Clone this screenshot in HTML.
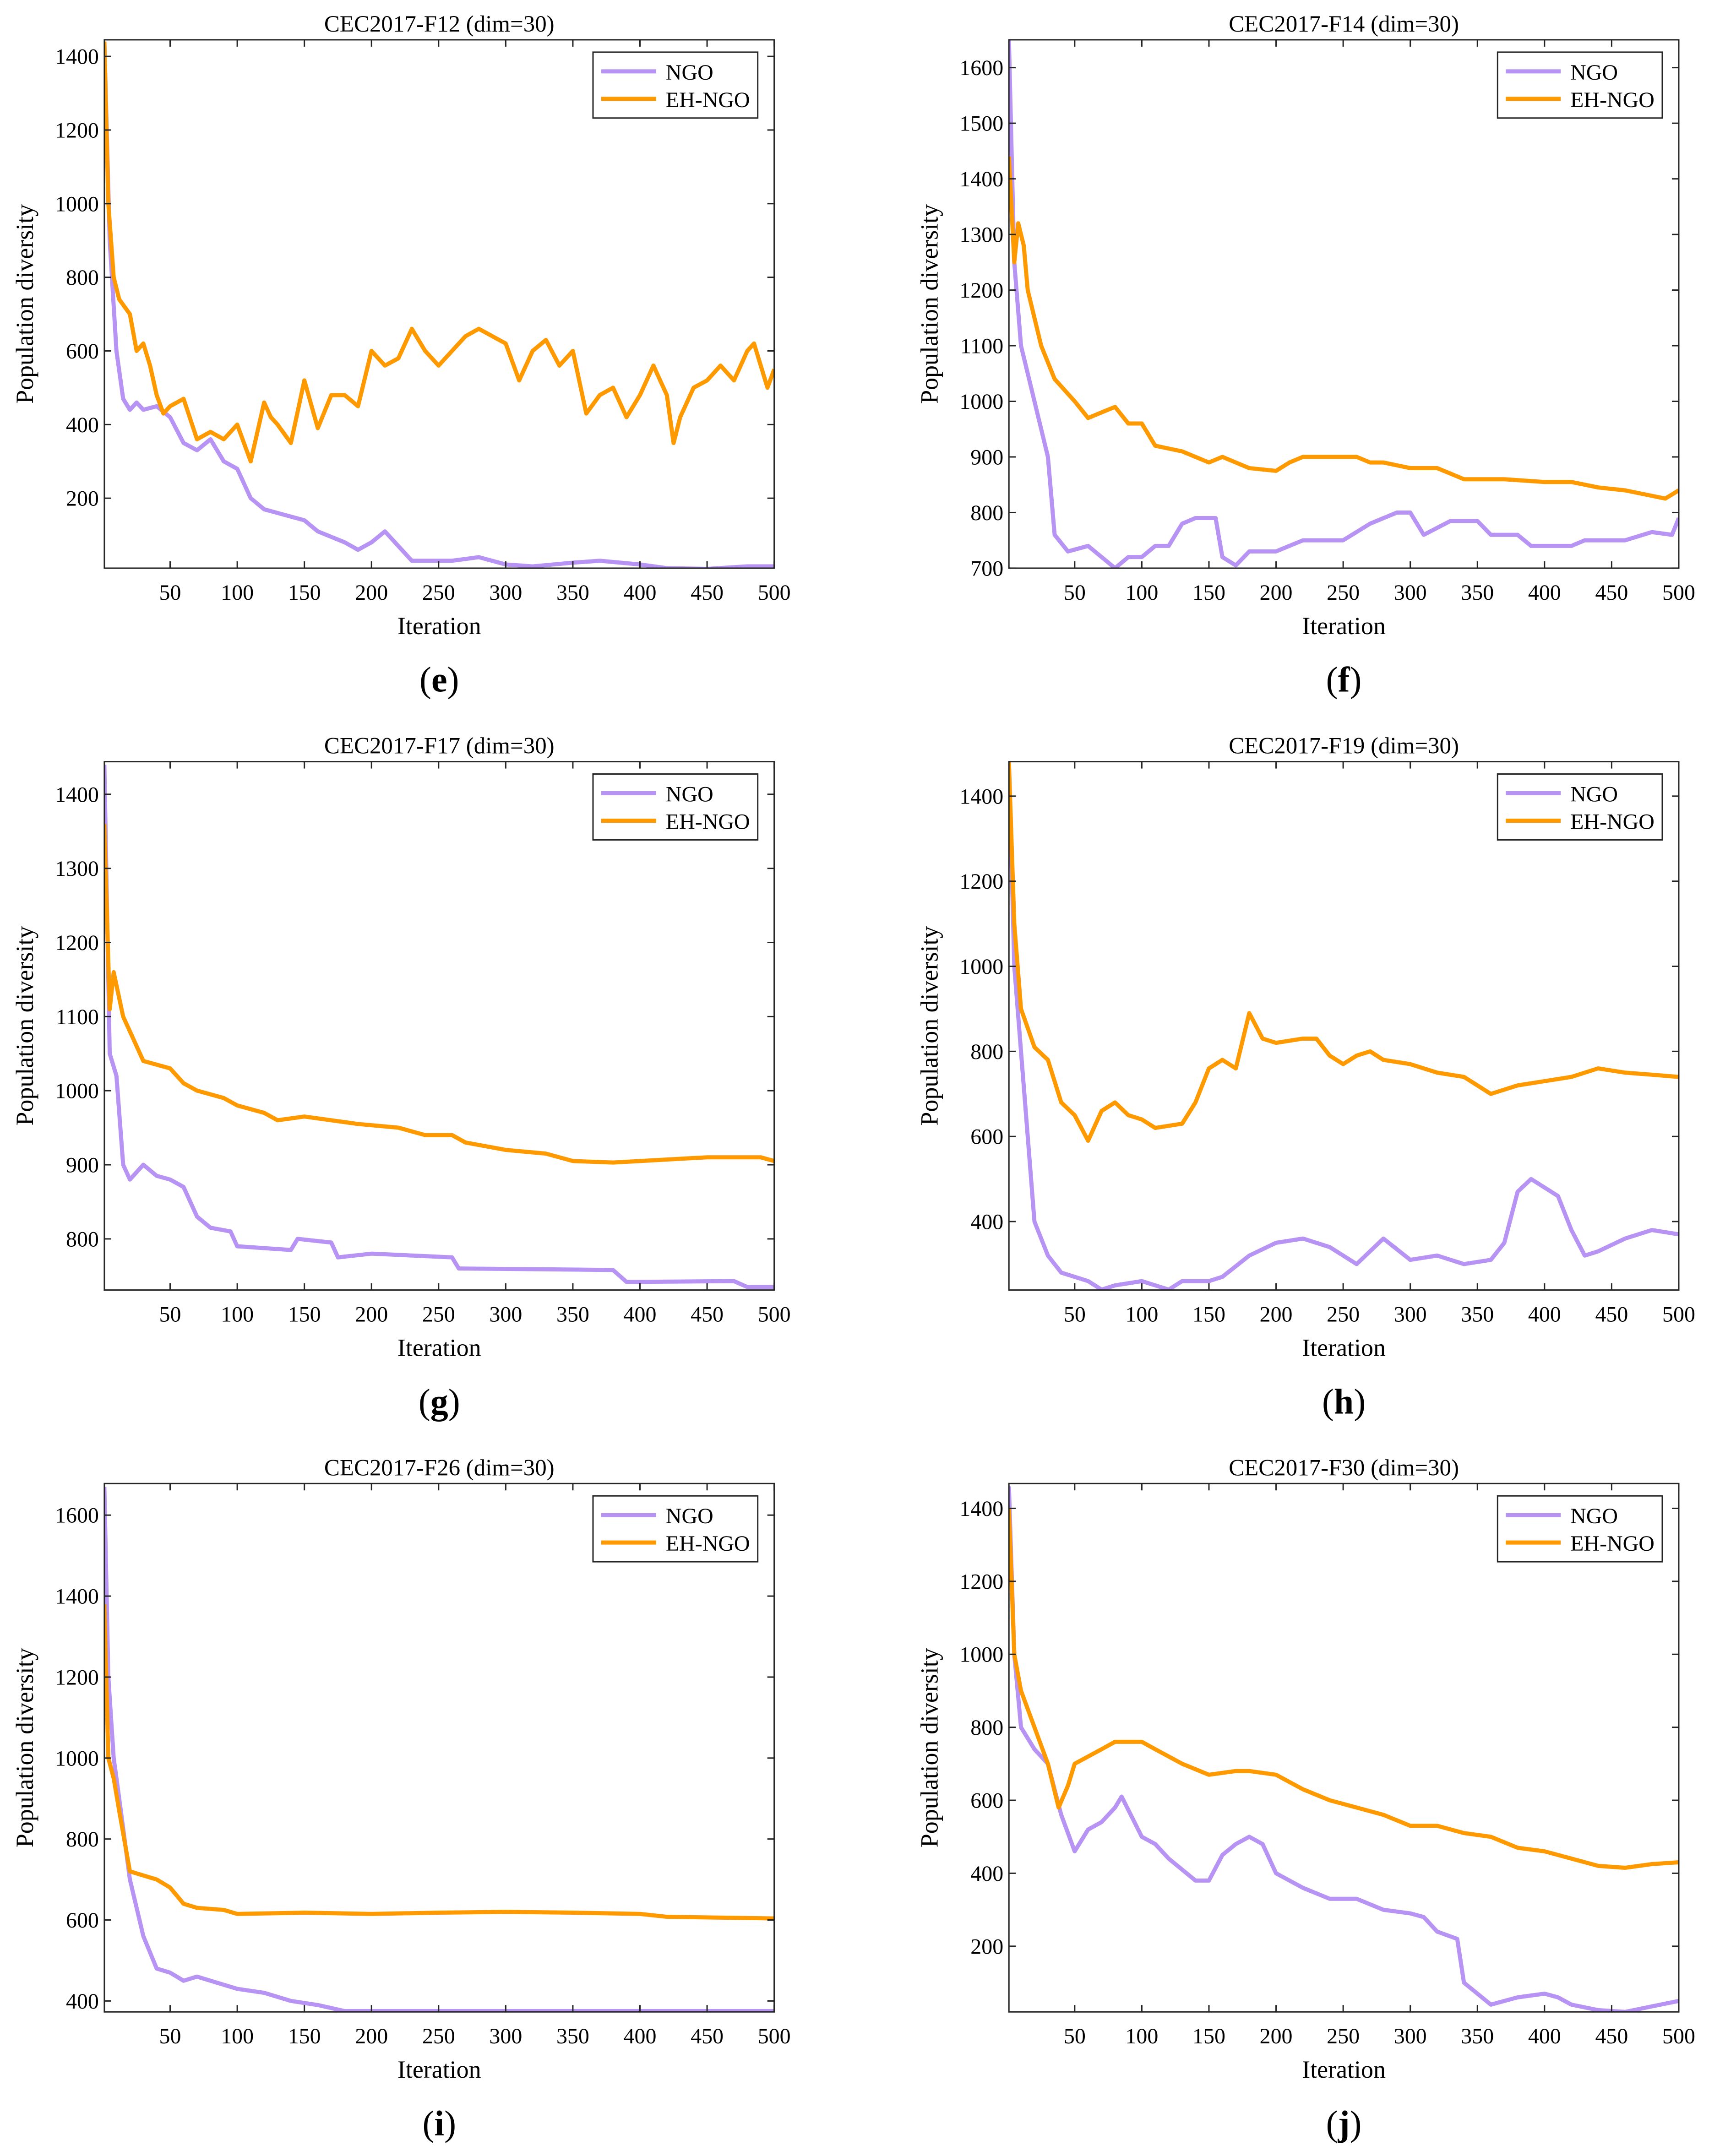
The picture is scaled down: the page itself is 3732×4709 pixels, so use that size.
<!DOCTYPE html>
<html><head><meta charset="utf-8"><style>
html,body{margin:0;padding:0;background:#fff;}
svg{display:block;}
svg text{font-family:"Liberation Serif","DejaVu Serif",serif !important;fill:#000;}
</style></head><body>
<svg id="fig" width="3732" height="4709" viewBox="0 0 1245 1571" xmlns="http://www.w3.org/2000/svg" font-family="Liberation Serif, serif"></svg>
<script>
const iters_e_ngo = [1,5,10,15,20,25,30,40,50,60,70,80,90,100,110,120,130,150,160,180,190,200,210,220,230,260,280,300,320,350,370,400,420,450,480,500];
const vals_e_ngo  = [1440,900,600,470,440,460,440,450,420,350,330,360,300,280,200,170,160,140,110,80,60,80,110,70,30,30,40,20,15,25,30,20,10,8,15,15];
const iters_e_eh = [1,4,8,12,20,25,30,35,40,45,50,60,70,80,90,100,110,120,125,130,140,150,160,170,180,190,200,210,220,230,240,250,260,270,280,300,310,320,330,340,350,360,370,380,390,400,410,420,425,430,440,450,460,470,480,485,495,500];
const vals_e_eh  = [1440,1000,800,740,700,600,620,560,480,430,450,470,360,380,360,400,300,460,420,400,350,520,390,480,480,450,600,560,580,660,600,560,600,640,660,620,520,600,630,560,600,430,480,500,420,480,560,480,350,420,500,520,560,520,600,620,500,550];

const iters_f_ngo = [1,5,10,20,30,35,45,60,70,80,90,100,110,120,130,140,155,160,170,180,200,220,250,270,290,300,310,330,350,360,380,390,420,430,460,480,495,500];
const vals_f_ngo  = [1650,1250,1100,1000,900,760,730,740,720,700,720,720,740,740,780,790,790,720,705,730,730,750,750,780,800,800,760,785,785,760,760,740,740,750,750,765,760,790];
const iters_f_eh = [1,5,8,12,15,25,35,50,60,70,80,90,100,110,130,150,160,180,200,210,220,260,270,280,300,320,330,340,370,400,420,440,460,490,500];
const vals_f_eh  = [1440,1250,1320,1280,1200,1100,1040,1000,970,980,990,960,960,920,910,890,900,880,875,890,900,900,890,890,880,880,870,860,860,855,855,845,840,825,840];

const iters_g_ngo = [1,5,10,15,20,30,40,50,60,70,80,95,100,140,145,170,175,200,260,265,380,390,470,480,500];
const vals_g_ngo  = [1440,1050,1020,900,880,900,885,880,870,830,815,810,790,785,800,795,775,780,775,760,758,742,743,735,735];
const iters_g_eh = [1,5,8,15,20,30,50,60,70,90,100,120,130,150,170,190,220,240,260,270,300,330,350,380,400,450,490,500];
const vals_g_eh  = [1360,1110,1160,1100,1080,1040,1030,1010,1000,990,980,970,960,965,960,955,950,940,940,930,920,915,905,903,905,910,910,905];

const iters_h_ngo = [1,5,10,15,20,30,40,50,60,70,80,100,120,130,150,160,180,200,220,240,260,280,300,320,340,360,370,380,390,410,420,430,440,460,480,500];
const vals_h_ngo  = [1480,1000,800,600,400,320,280,270,260,240,250,260,240,260,260,270,320,350,360,340,300,360,310,320,300,310,350,470,500,460,380,320,330,360,380,370];
const iters_h_eh = [1,5,10,20,30,40,50,60,70,80,90,100,110,130,140,150,160,170,180,190,200,220,230,240,250,260,270,280,300,320,340,350,360,380,400,420,440,460,480,500];
const vals_h_eh  = [1480,1100,900,810,780,680,650,590,660,680,650,640,620,630,680,760,780,760,890,830,820,830,830,790,770,790,800,780,770,750,740,720,700,720,730,740,760,750,745,740];

const iters_i_ngo = [1,4,8,12,20,30,40,50,60,70,80,100,120,140,160,180,220,300,400,500];
const vals_i_ngo  = [1670,1200,1000,900,700,560,480,470,450,460,450,430,420,400,390,375,375,375,375,375];
const iters_i_eh = [1,4,8,12,20,30,40,50,60,70,90,100,150,200,250,300,350,400,420,500];
const vals_i_eh  = [1380,1000,950,870,720,710,700,680,640,630,625,615,618,615,618,620,618,615,608,604];

const iters_j_ngo = [1,5,10,20,30,40,50,60,70,80,85,100,110,120,140,150,160,170,180,190,200,220,240,260,280,300,310,320,335,340,360,380,400,410,420,440,460,480,500];
const vals_j_ngo  = [1460,1000,800,740,700,560,460,520,540,580,610,500,480,440,380,380,450,480,500,480,400,360,330,330,300,290,280,240,220,100,40,60,70,60,40,25,20,35,50];
const iters_j_eh = [1,5,10,20,30,38,45,50,60,70,80,100,110,130,150,170,180,200,220,240,260,280,300,320,340,360,380,400,420,440,460,480,500];
const vals_j_eh  = [1400,1000,900,800,700,580,640,700,720,740,760,760,740,700,670,680,680,670,630,600,580,560,530,530,510,500,470,460,440,420,415,425,430];

const xTicks = [50,100,150,200,250,300,350,400,450,500];
const yTicks_e = [200,400,600,800,1000,1200,1400];
const yTicks_f = [700,800,900,1000,1100,1200,1300,1400,1500,1600];
const yTicks_g = [800,900,1000,1100,1200,1300,1400];
const yTicks_h = [400,600,800,1000,1200,1400];
const yTicks_i = [400,600,800,1000,1200,1400,1600];
const yTicks_j = [200,400,600,800,1000,1200,1400];

const panels = [
 {id:'e',title:'CEC2017-F12 (dim=30)',x:76,y:29,ylim:[10,1445],ticks:yTicks_e,ngo:[iters_e_ngo,vals_e_ngo],eh:[iters_e_eh,vals_e_eh]},
 {id:'f',title:'CEC2017-F14 (dim=30)',x:735,y:29,ylim:[700,1650],ticks:yTicks_f,ngo:[iters_f_ngo,vals_f_ngo],eh:[iters_f_eh,vals_f_eh]},
 {id:'g',title:'CEC2017-F17 (dim=30)',x:76,y:555,ylim:[731,1444],ticks:yTicks_g,ngo:[iters_g_ngo,vals_g_ngo],eh:[iters_g_eh,vals_g_eh]},
 {id:'h',title:'CEC2017-F19 (dim=30)',x:735,y:555,ylim:[239,1481],ticks:yTicks_h,ngo:[iters_h_ngo,vals_h_ngo],eh:[iters_h_eh,vals_h_eh]},
 {id:'i',title:'CEC2017-F26 (dim=30)',x:76,y:1081,ylim:[373,1678],ticks:yTicks_i,ngo:[iters_i_ngo,vals_i_ngo],eh:[iters_i_eh,vals_i_eh]},
 {id:'j',title:'CEC2017-F30 (dim=30)',x:735,y:1081,ylim:[20,1468],ticks:yTicks_j,ngo:[iters_j_ngo,vals_j_ngo],eh:[iters_j_eh,vals_j_eh]}
];
const W=488,H=385;
const NS='http://www.w3.org/2000/svg';
const FONT='Liberation Serif, DejaVu Serif, serif';
const fig=document.getElementById('fig');
function mk(tag,attrs,parent,txt){const e=document.createElementNS(NS,tag);for(const k in attrs)e.setAttribute(k,attrs[k]);if(tag==='text')e.setAttribute('font-family',FONT);if(txt!==undefined)e.textContent=txt;parent.appendChild(e);return e;}
panels.forEach(p=>{
  const g=mk('g',{},fig);
  
  
  const xs=v=>p.x+(v-1)/(500-1)*W;
  const ys=v=>p.y+H-(v-p.ylim[0])/(p.ylim[1]-p.ylim[0])*H;
  const clip=mk('clipPath',{id:'c'+p.id},g);mk('rect',{x:p.x,y:p.y,width:W,height:H},clip);
  [['ngo','#b794f4'],['eh','#ff9900']].forEach(([k,c])=>{
    const [it,vl]=p[k];
    const pts=it.map((t,i)=>xs(t).toFixed(1)+','+ys(vl[i]).toFixed(1)).join(' ');
    const pl=mk('polyline',{points:pts,fill:'none',stroke:c,'stroke-width':3,'stroke-linejoin':'round','clip-path':'url(#c'+p.id+')'},g);
    
    
  });
  const box=mk('rect',{x:p.x,y:p.y,width:W,height:H,fill:'none',stroke:'#262626','stroke-width':1},g);
  
  
  xTicks.forEach(t=>{
    const X=xs(t);
    mk('line',{x1:X,x2:X,y1:p.y+H,y2:p.y+H-5,stroke:'#262626'},g);
    mk('line',{x1:X,x2:X,y1:p.y,y2:p.y+5,stroke:'#262626'},g);
    const tl=mk('text',{x:X,y:p.y+H+23,'font-size':16,'text-anchor':'middle'},g,String(t));
    
    
  });
  p.ticks.forEach(t=>{
    const Y=ys(t);
    mk('line',{x1:p.x,x2:p.x+5,y1:Y,y2:Y,stroke:'#262626'},g);
    mk('line',{x1:p.x+W,x2:p.x+W-5,y1:Y,y2:Y,stroke:'#262626'},g);
    const tl=mk('text',{x:p.x-4,y:Y+5.5,'font-size':16,'text-anchor':'end'},g,String(t));
    
    
  });
  const ti=mk('text',{x:p.x+W/2,y:p.y-6,'font-size':17,'text-anchor':'middle'},g,p.title);
  
  
  const xl=mk('text',{x:p.x+W/2,y:p.y+H+48,'font-size':18,'text-anchor':'middle'},g,'Iteration');
  
  
  const yl=mk('text',{x:0,y:0,'font-size':18,'text-anchor':'middle',transform:'translate('+(p.x-52)+','+(p.y+H/2)+') rotate(-90)'},g,'Population diversity');
  
  
  const lab=mk('text',{x:p.x+W/2,y:p.y+H+90,'font-size':26,'text-anchor':'middle'},g);
  
  
  mk('tspan',{},lab,'(');mk('tspan',{'font-weight':'bold'},lab,p.id);mk('tspan',{},lab,')');
  const lg=mk('g',{},g);
  
  
  const lx=p.x+W-132, ly=p.y+9;
  mk('rect',{x:lx,y:ly,width:120,height:48,fill:'#fff',stroke:'#262626'},lg);
  mk('line',{x1:lx+6,x2:lx+46,y1:ly+14,y2:ly+14,stroke:'#b794f4','stroke-width':3},lg);
  mk('line',{x1:lx+6,x2:lx+46,y1:ly+34,y2:ly+34,stroke:'#ff9900','stroke-width':3},lg);
  const t1=mk('text',{x:lx+53,y:ly+20,'font-size':16},lg,'NGO');
  
  
  const t2=mk('text',{x:lx+53,y:ly+40,'font-size':16},lg,'EH-NGO');
  
  
});
</script>
</body></html>
